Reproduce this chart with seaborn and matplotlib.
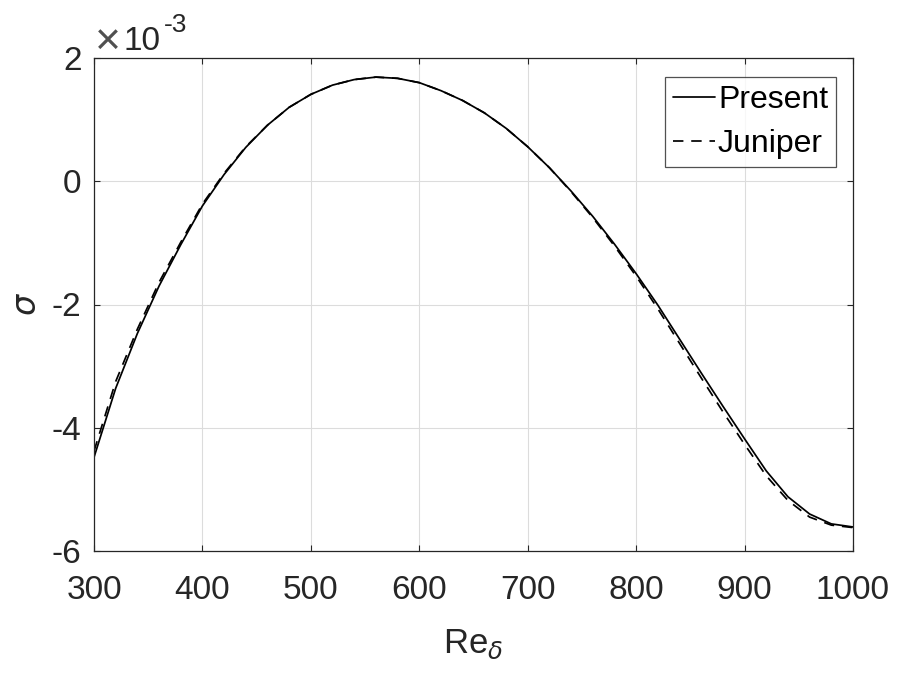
import numpy as np
import pandas as pd
import matplotlib
matplotlib.use("Agg")
import matplotlib.pyplot as plt
import seaborn as sns

# Re_delta samples and growth rate sigma (units of 1e-3)
re_delta = [300, 320, 340, 360, 380, 400, 420, 440, 460, 480, 500, 520,
            540, 560, 580, 600, 620, 640, 660, 680, 700, 720, 740, 760,
            780, 800, 820, 840, 860, 880, 900, 920, 940, 960, 980, 1000]
sigma_present = [-4.48, -3.36, -2.47, -1.70, -1.03, -0.40, 0.11, 0.55, 0.91,
                 1.20, 1.41, 1.56, 1.65, 1.69, 1.67, 1.60, 1.47, 1.31, 1.11,
                 0.86, 0.56, 0.22, -0.16, -0.57, -1.02, -1.50, -2.01, -2.56,
                 -3.11, -3.65, -4.18, -4.70, -5.12, -5.40, -5.56, -5.61]
sigma_juniper = [-4.38, -3.25, -2.40, -1.64, -0.99, -0.37, 0.13, 0.56, 0.91,
                 1.20, 1.41, 1.56, 1.65, 1.69, 1.67, 1.60, 1.47, 1.31, 1.11,
                 0.86, 0.56, 0.22, -0.17, -0.59, -1.05, -1.54, -2.07, -2.63,
                 -3.19, -3.74, -4.27, -4.78, -5.18, -5.45, -5.58, -5.62]

x_ticks = [300, 400, 500, 600, 700, 800, 900, 1000]
y_ticks = [-6, -4, -2, 0, 2]

df = pd.DataFrame({
    "Re": re_delta * 2,
    "sigma": sigma_present + sigma_juniper,
    "Method": ["Present"] * len(re_delta) + ["Juniper"] * len(re_delta),
})

sns.set_style("ticks")
plt.rcParams["font.family"] = ["Liberation Sans", "DejaVu Sans"]
plt.rcParams["axes.unicode_minus"] = False
plt.rcParams["mathtext.fontset"] = "dejavusans"

W, H = 901, 677
fig = plt.figure(figsize=(W / 100, H / 100), dpi=100)
ax = fig.add_axes([94 / W, 1 - 551 / H, 759 / W, 493 / H])

sns.lineplot(data=df, x="Re", y="sigma", hue="Method", style="Method",
             palette={"Present": "black", "Juniper": "black"},
             dashes={"Present": "", "Juniper": (6, 4.5)},
             linewidth=1.25, ax=ax)

ax.set_xlim(300, 1000)
ax.set_ylim(-6, 2)
ax.set_xticks(x_ticks)
ax.set_yticks(y_ticks)
ax.grid(True, color="#dcdcdc", linewidth=0.8)
ax.set_axisbelow(True)

dark = "#262626"
for s in ax.spines.values():
    s.set_color(dark)
    s.set_linewidth(0.9)
ax.tick_params(axis="both", direction="in", length=4, width=0.8,
               colors=dark, labelsize=24, top=True, right=True)
ax.tick_params(axis="x", pad=17)
ax.tick_params(axis="y", pad=9)

ax.set_xlabel(r"Re$_{\delta}$", fontsize=25, color=dark, labelpad=16)
ax.set_ylabel(r"$\sigma$", fontsize=24, color=dark, labelpad=6)

# exponent label in the top-left corner
fig.text(95 / W, 1 - 54 / H, "\u00d7", fontsize=32, color="#505050",
         ha="left", va="baseline")
fig.text(124 / W, 1 - 50 / H, "10", fontsize=24, color=dark,
         ha="left", va="baseline")
fig.text(164 / W, 1 - 32 / H, "-3", fontsize=19, color=dark,
         ha="left", va="baseline")

leg = ax.legend(loc="upper right", bbox_to_anchor=(0.9776, 0.9615),
                fontsize=23, frameon=True, fancybox=False, handlelength=1.3,
                handletextpad=0.1, labelspacing=0.44, borderpad=0.25,
                borderaxespad=0)
leg.get_frame().set_edgecolor(dark)
leg.get_frame().set_linewidth(0.9)
for t in leg.get_texts():
    t.set_color("black")

fig.savefig("out.png", dpi=100)
